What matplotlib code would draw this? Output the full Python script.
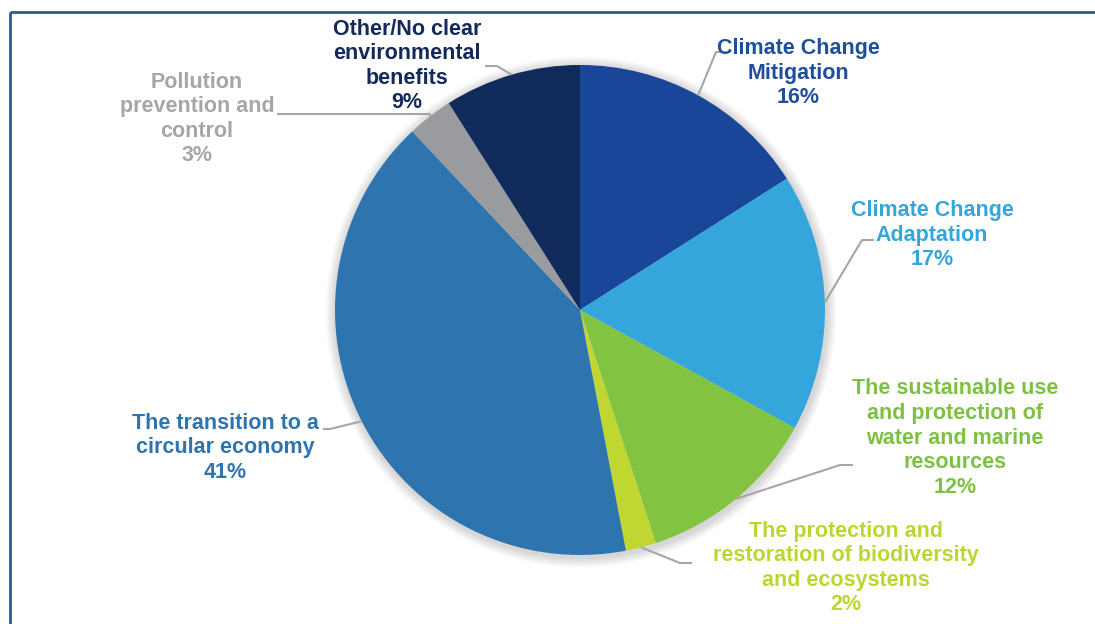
import numpy as np
import matplotlib.pyplot as plt
from matplotlib.patches import Circle

plt.rcParams['font.family'] = ['Liberation Sans', 'DejaVu Sans']

categories = [
    "Climate Change\nMitigation",
    "Climate Change\nAdaptation",
    "The sustainable use\nand protection of\nwater and marine\nresources",
    "The protection and\nrestoration of biodiversity\nand ecosystems",
    "The transition to a\ncircular economy",
    "Pollution\nprevention and\ncontrol",
    "Other/No clear\nenvironmental\nbenefits",
]
shares = [16, 17, 12, 2, 41, 3, 9]
wedge_colors = ["#1a4699", "#35a6dc", "#82c341", "#bfd730", "#2e75b0", "#999b9e", "#102a5c"]
text_colors = ["#1f4e9c", "#35a6dc", "#7dc143", "#bcd631", "#2e75b0", "#a6a6a6", "#13295a"]

# label centre (px from top-left) and leader elbow / end points
label_pos = [(798, 73), (932, 235), (955, 438), (846, 568), (225, 448), (197, 119), (407, 66)]
elbows = [((716, 52), (728, 52)), ((862, 240), (874, 240)), ((840, 465), (853, 465)),
          ((680, 563), (692, 563)), ((330, 429), (323, 429)), ((430, 114), (277, 114)),
          ((497, 66), (485, 66))]

W, H = 1095, 624
fig = plt.figure(figsize=(W / 100, H / 100), dpi=100)
ax = fig.add_axes([0, 0, 1, 1])

cx, cy, r = 580, H - 310, 245

# soft shadow round the pie
for k in range(8):
    ax.add_patch(Circle((cx + 1, cy - 2), r + 2 + k * 1.2, color='#000000',
                        alpha=0.018, lw=0, zorder=1))

wedges, _ = ax.pie(shares, colors=wedge_colors, startangle=90, counterclock=False,
                   center=(cx, cy), radius=r, frame=True,
                   wedgeprops=dict(linewidth=0, zorder=2))
ax.set_xlim(0, W)
ax.set_ylim(0, H)
ax.axis('off')

for w, lab, val, tc, (lx, ly), (e1, e2) in zip(wedges, categories, shares, text_colors,
                                               label_pos, elbows):
    mid = np.deg2rad((w.theta1 + w.theta2) / 2)
    sx, sy = cx + r * np.cos(mid), cy + r * np.sin(mid)
    ax.plot([sx, e1[0], e2[0]], [sy, H - e1[1], H - e2[1]], color='#a6a6a6', lw=1.5,
            zorder=3, solid_capstyle='butt')
    ax.text(lx, H - ly, f"{lab}\n{val}%", color=tc, ha='center', va='center',
            fontsize=15.5, fontweight='bold', linespacing=1.22, zorder=4)

# chart frame edges
ax.plot([10, 10], [0, H - 12], color='#2f5597', lw=2, solid_capstyle='butt')
ax.plot([10, W], [H - 12, H - 12], color='#2f5597', lw=2, solid_capstyle='butt')

fig.savefig("out.png", dpi=100)
